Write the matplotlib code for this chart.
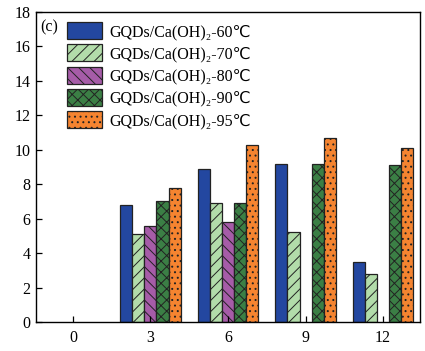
import matplotlib
matplotlib.use("Agg")
import matplotlib.pyplot as plt
import numpy as np

plt.rcParams['font.family'] = ['Liberation Serif', 'DejaVu Sans']
plt.rcParams['hatch.color'] = '#333333'
plt.rcParams['hatch.linewidth'] = 0.7

x_ticks = [0, 3, 6, 9, 12]
series_labels = ['GQDs/Ca(OH)₂-60℃', 'GQDs/Ca(OH)₂-70℃', 'GQDs/Ca(OH)₂-80℃',
                 'GQDs/Ca(OH)₂-90℃', 'GQDs/Ca(OH)₂-95℃']
s60 = [np.nan, 6.8, 8.9, 9.2, 3.5]
s70 = [np.nan, 5.1, 6.9, 5.2, 2.8]
s80 = [np.nan, 5.6, 5.8, np.nan, np.nan]
s90 = [np.nan, 7.0, 6.9, 9.2, 9.1]
s95 = [np.nan, 7.8, 10.3, 10.7, 10.1]
series = [s60, s70, s80, s90, s95]
colors = ['#2347a0', '#b2dcaa', '#a65ca8', '#3b7f45', '#f58430']
hatches = ['', '///', '\\\\\\', 'xxx', '...']

fig = plt.figure(figsize=(4.25, 3.51), dpi=100)
ax = fig.add_axes([36/425, 1-322/351, (420-36)/425, (322-12)/351])
w = 0.465
x = np.array(x_ticks, dtype=float)
for i, (vals, lab, c, h) in enumerate(zip(series, series_labels, colors, hatches)):
    ax.bar(x + (i-2)*w, vals, width=w, color=c, edgecolor='#222222', linewidth=0.9,
           hatch=h, label=lab)

ax.set_xlim(-1.43, 13.43)
ax.set_ylim(0, 18)
ax.set_yticks(range(0, 19, 2))
ax.set_xticks(x_ticks)
ax.tick_params(direction='in', labelsize=11.5, length=4, width=0.9, top=False, right=False, pad=6)
ax.tick_params(axis='y', pad=4)
for s in ax.spines.values():
    s.set_linewidth(1.0)
ax.text(0.012, 0.975, '(c)', transform=ax.transAxes, fontsize=11.5, va='top', ha='left')
ax.legend(loc='upper left', bbox_to_anchor=(0.055, 0.998), frameon=False, fontsize=11.5,
          handlelength=2.2, handleheight=1.25, labelspacing=0.28, handletextpad=0.5,
          borderaxespad=0.2)
fig.savefig('out.png', dpi=100)
